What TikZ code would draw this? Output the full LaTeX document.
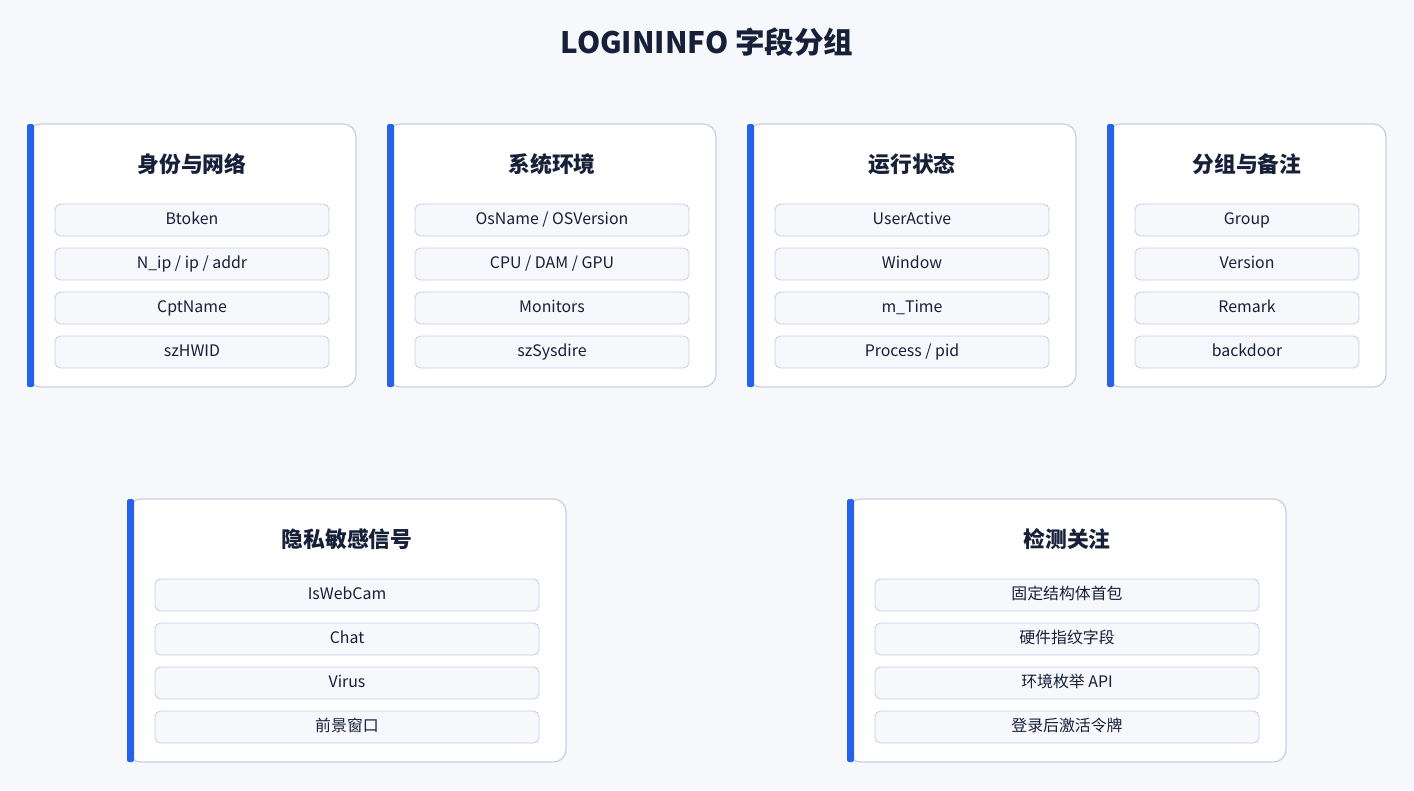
\documentclass[tikz,border=0pt]{standalone}
\usepackage{fontspec}
\setmainfont{Noto Sans CJK SC}
\definecolor{PageBg}{RGB}{247, 248, 252}
\definecolor{InkNavy}{RGB}{22, 32, 56}
\definecolor{AccentBlue}{RGB}{37, 99, 235}
\definecolor{CardLine}{RGB}{200, 208, 222}
\definecolor{FieldFill}{RGB}{246, 248, 252}
\definecolor{FieldLine}{RGB}{198, 208, 230}
\usetikzlibrary{positioning}

\tikzset{
  cardbox/.style={draw=CardLine, fill=white, line width=0.9pt, rounded corners=9pt},
  accent/.style={fill=AccentBlue, rounded corners=1.5pt},
  cardtitle/.style={font=\fontsize{15.5}{18}\selectfont\bfseries, text=InkNavy},
  field/.style={draw=FieldLine, fill=FieldFill, line width=0.6pt, rounded corners=4pt,
    minimum height=0.8cm, inner sep=0pt, text height=8.6pt, text depth=2.6pt,
    font=\fontsize{11.3}{13}\selectfont, text=InkNavy}
}

% name, left x, right x, top y, title, fields
\newcommand\fieldcard[6]{%
  \draw[cardbox] (#2,#4) rectangle (#3,{#4+263});
  \fill[accent] ({#2-1},#4) rectangle ({#2+6},{#4+263});
  \node[cardtitle] (#1-title) at ({(#2+#3)/2},{#4+40}) {#5};
  \foreach \txt [count=\k] in {#6} {
    \node[field, minimum width={(#3-#2-54)*0.025cm}] (#1-\k)
      at ({(#2+#3)/2},{#4+96+(\k-1)*44}) {\txt};
  }%
}

\begin{document}
\begin{tikzpicture}[x=0.025cm, y=-0.025cm]
  \useasboundingbox[fill=PageBg] (0,0) rectangle (1414,790);

  % Title
  \node[font=\fontsize{21}{24}\selectfont\bfseries, text=InkNavy] (title) at (707,42) {LOGININFO 字段分组};

  % Top row
  \fieldcard{ident}{28}{356}{124}{身份与网络}{Btoken, N\_ip / ip / addr, CptName, szHWID}
  \fieldcard{sys}{388}{716}{124}{系统环境}{OsName / OSVersion, CPU / DAM / GPU, Monitors, szSysdire}
  \fieldcard{run}{748}{1076}{124}{运行状态}{UserActive, Window, m\_Time, Process / pid}
  \fieldcard{grp}{1108}{1386}{124}{分组与备注}{Group, Version, Remark, backdoor}

  % Bottom row
  \fieldcard{priv}{128}{566}{499}{隐私敏感信号}{IsWebCam, Chat, Virus, 前景窗口}
  \fieldcard{det}{848}{1286}{499}{检测关注}{固定结构体首包, 硬件指纹字段, 环境枚举 API, 登录后激活令牌}
\end{tikzpicture}
\end{document}
